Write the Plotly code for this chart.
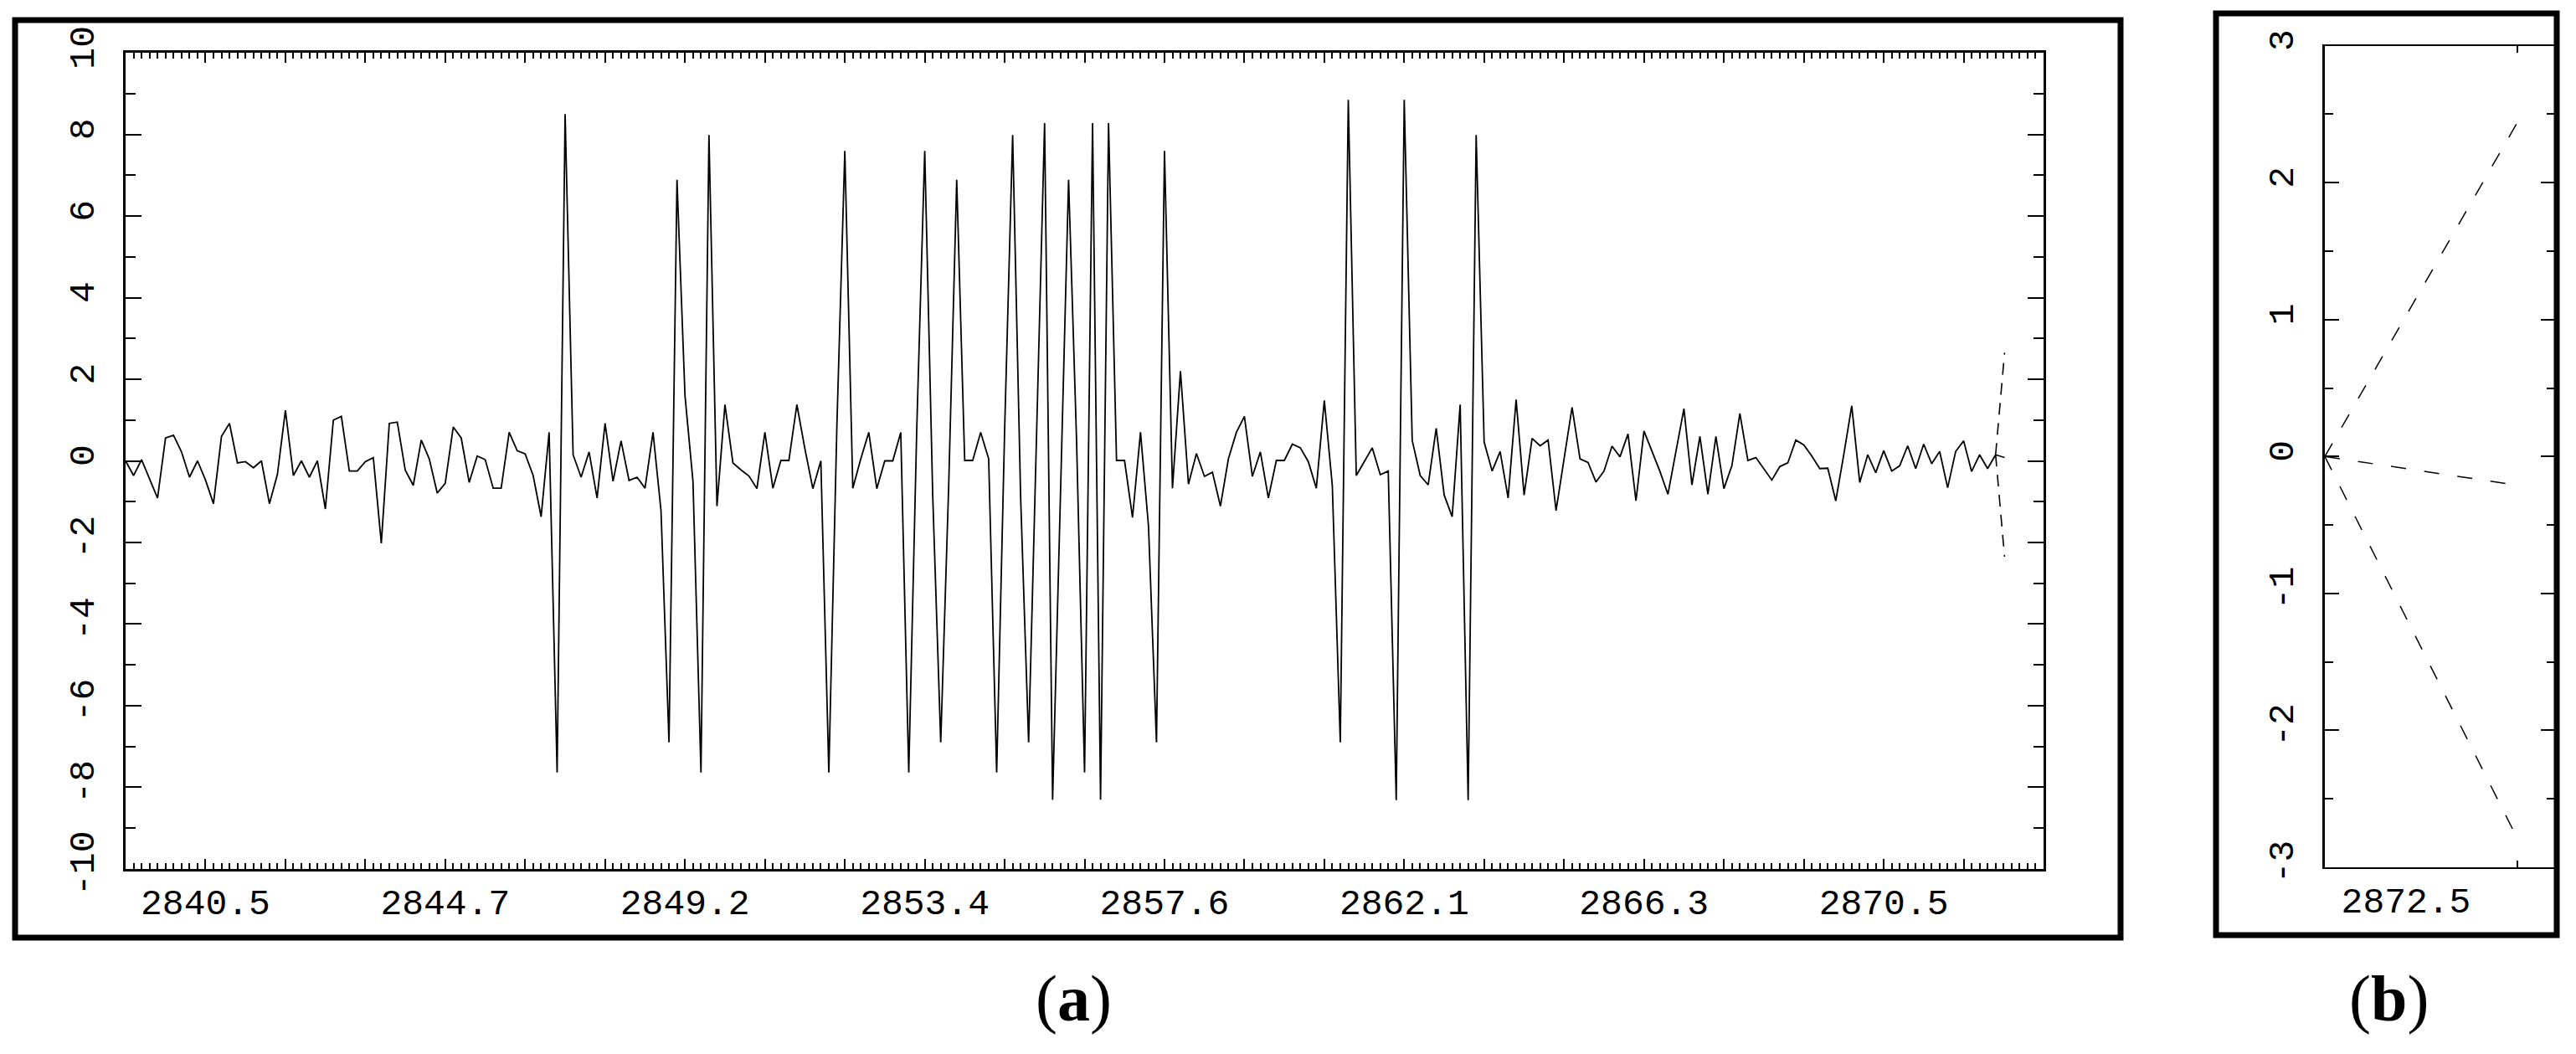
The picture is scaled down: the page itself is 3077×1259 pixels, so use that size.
import plotly.graph_objects as go

W, H = 3077, 1259

# ---------------- data: panel (a) observed series ----------------
t0 = 2839.0714          # time of first sample (left edge of axis)
dt = 1 / 7              # sampling step
values = [
    0.0, -0.36, 0.03, -0.45, -0.91, 0.56, 0.63, 0.22, -0.4, 0.0,
    -0.47, -1.05, 0.6, 0.92, -0.05, -0.02, -0.17, 0.0, -1.05, -0.33,
    1.24, -0.36, 0.0, -0.4, 0.0, -1.18, 1.0, 1.09, -0.25, -0.25,
    -0.02, 0.08, -2.02, 0.92, 0.95, -0.23, -0.6, 0.51, 0.05, -0.79,
    -0.55, 0.83, 0.56, -0.53, 0.12, 0.03, -0.67, -0.67, 0.7, 0.25,
    0.17, -0.36, -1.37, 0.7, -7.64, 8.5, 0.15, -0.4, 0.22, -0.91,
    0.92, -0.5, 0.49, -0.48, -0.4, -0.67, 0.7, -1.22, -6.9, 6.89,
    1.6, -0.5, -7.64, 7.99, -1.11, 1.38, -0.05, -0.22, -0.37, -0.68,
    0.7, -0.67, 0.01, 0.01, 1.38, 0.3, -0.68, 0.0, -7.64, 0.8,
    7.6, -0.67, 0.05, 0.7, -0.68, 0.0, 0.0, 0.7, -7.64, 0.77,
    7.6, -0.85, -6.9, -0.6, 6.89, 0.01, 0.01, 0.7, 0.05, -7.64,
    0.77, 7.99, -0.88, -6.9, 0.63, 8.28, -8.31, -0.7, 6.89, 0.5,
    -7.64, 8.28, -8.31, 8.28, 0.01, 0.01, -1.39, 0.7, -1.6, -6.9,
    7.6, -0.67, 2.2, -0.57, 0.18, -0.38, -0.28, -1.11, 0.05, 0.7,
    1.09, -0.38, 0.22, -0.91, 0.01, 0.01, 0.41, 0.32, -0.02, -0.67,
    1.48, -0.6, -6.9, 8.85, -0.36, -0.02, 0.32, -0.34, -0.25, -8.32,
    8.85, 0.5, -0.36, -0.59, 0.8, -0.84, -1.37, 1.38, -8.32, 7.99,
    0.46, -0.25, 0.23, -0.91, 1.5, -0.84, 0.55, 0.37, 0.51, -1.22,
    0.05, 1.31, 0.05, -0.04, -0.52, -0.25, 0.36, 0.1, 0.66, -0.98,
    0.73, 0.22, -0.26, -0.82, 0.22, 1.28, -0.59, 0.6, -0.82, 0.6,
    -0.68, -0.12, 1.16, 0.01, 0.08, -0.19, -0.47, -0.14, -0.05, 0.51,
    0.39, 0.12, -0.19, -0.18, -0.98, 0.15, 1.35, -0.53, 0.15, -0.29,
    0.25, -0.25, -0.12, 0.37, -0.19, 0.41, -0.07, 0.23, -0.66, 0.23,
    0.49, -0.26, 0.15, -0.19, 0.15,
]
time = [t0 + i * dt for i in range(len(values))]

# x tick labels of panel (a) (every third major tick is labelled)
x_tick_labels = ["2840.5", "2844.7", "2849.2", "2853.4",
                 "2857.6", "2862.1", "2866.3", "2870.5"]
y_tick_vals_a = [-10, -8, -6, -4, -2, 0, 2, 4, 6, 8, 10]

# forecast in panel (a)
fc_a_t = [2872.5, 2872.66]
fc_a_upper = [0.15, 2.65]
fc_a_mid = [0.15, 0.08]
fc_a_lower = [0.15, -2.35]

# ---------------- data: panel (b) forecast close-up ----------------
fc_b_t = [2872.5, 2872.66]
fc_b_upper = [0.0, 2.44]
fc_b_mid = [0.0, -0.21]
fc_b_lower = [0.0, -2.79]
b_tick_labels = ["2872.5"]
y_tick_vals_b = [-3, -2, -1, 0, 1, 2, 3]

panel_labels = ["(<b>a</b>)", "(<b>b</b>)"]

# ---------------- helpers ----------------
def fx(p):
    return p / W

def fy(p):
    return 1 - p / H

# major ticks every 10 samples; label every third
n_major = 25
major_vals = [t0 + 10 * k * dt for k in range(n_major)]
major_text = []
for k in range(n_major):
    j = k - 1
    if j >= 0 and j % 3 == 0 and j // 3 < len(x_tick_labels):
        major_text.append(x_tick_labels[j // 3])
    else:
        major_text.append("")

TICKFONT = dict(family="Liberation Mono", size=43, color="black")

fig = go.Figure()

fig.add_trace(go.Scatter(x=time, y=values, mode="lines",
                         line=dict(color="black", width=1.8),
                         xaxis="x", yaxis="y", showlegend=False))
for ys in (fc_a_upper, fc_a_mid, fc_a_lower):
    fig.add_trace(go.Scatter(x=fc_a_t, y=ys, mode="lines",
                             line=dict(color="black", width=1.6, dash="14px,10px"),
                             xaxis="x", yaxis="y", showlegend=False))
for ys in (fc_b_upper, fc_b_mid, fc_b_lower):
    fig.add_trace(go.Scatter(x=fc_b_t, y=ys, mode="lines",
                             line=dict(color="black", width=1.5, dash="18px,22px"),
                             xaxis="x2", yaxis="y2", showlegend=False))

common_axis = dict(showgrid=False, zeroline=False, showline=True,
                   linecolor="black", ticks="inside", tickcolor="black",
                   mirror="ticks", tickfont=TICKFONT, automargin=False)

fig.update_layout(
    width=W, height=H, autosize=False,
    margin=dict(l=0, r=0, t=0, b=0, pad=0, autoexpand=False),
    paper_bgcolor="white", plot_bgcolor="white",
    xaxis=dict(common_axis, domain=[fx(150), fx(2441)],
               range=[t0, t0 + 240 * dt],
               tickmode="array", tickvals=major_vals, ticktext=major_text,
               ticklen=12, tickwidth=2, linewidth=3,
               ticklabelstandoff=0,
               minor=dict(tickmode="linear", tick0=t0, dtick=dt,
                          ticks="inside", ticklen=7, tickwidth=1.5,
                          tickcolor="black"),
               anchor="y"),
    yaxis=dict(common_axis, domain=[fy(1037.7), fy(63.3)],
               range=[-10, 10], tickmode="array",
               tickvals=y_tick_vals_a,
               ticktext=[str(v) for v in y_tick_vals_a],
               ticklen=19, tickwidth=2, linewidth=3, tickangle=-90,
               ticklabelstandoff=18,
               minor=dict(tickmode="linear", tick0=-9, dtick=2,
                          ticks="inside", ticklen=12, tickwidth=2,
                          tickcolor="black"),
               anchor="x"),
    xaxis2=dict(common_axis, domain=[fx(2777), fx(3052)],
                range=[2872.5, 2872.6913],
                tickmode="array", tickvals=[fc_b_t[-1]], ticktext=b_tick_labels,
                ticklen=8, tickwidth=1.5, linewidth=2,
                ticklabelshift=-133, ticklabelstandoff=0,
                anchor="y2"),
    yaxis2=dict(common_axis, domain=[fy(1036), fy(54.6)],
                range=[-3, 3], tickmode="array",
                tickvals=y_tick_vals_b,
                ticktext=[str(v) for v in y_tick_vals_b],
                ticklen=17, tickwidth=2, linewidth=3, tickangle=-90,
                ticklabelstandoff=18,
                minor=dict(tickmode="linear", tick0=-2.5, dtick=1,
                           ticks="inside", ticklen=10, tickwidth=2,
                           tickcolor="black"),
                anchor="x2"),
)

# outer frames
fig.add_shape(type="rect", xref="paper", yref="paper",
              x0=fx(18), x1=fx(2533), y0=fy(1120), y1=fy(24),
              line=dict(color="black", width=7), fillcolor="rgba(0,0,0,0)")
fig.add_shape(type="rect", xref="paper", yref="paper",
              x0=fx(2647), x1=fx(3054), y0=fy(1117), y1=fy(16),
              line=dict(color="black", width=7), fillcolor="rgba(0,0,0,0)")

# panel labels
for txt, cx in zip(panel_labels, (1282, 2853)):
    fig.add_annotation(text=txt, xref="paper", yref="paper",
                       x=fx(cx), y=fy(1192), showarrow=False,
                       xanchor="center", yanchor="middle",
                       font=dict(family="Liberation Serif", size=78, color="black"))

fig.write_html("out.html",
               config={"displayModeBar": False},
               post_script="document.body.style.margin='0';document.body.style.padding='0';")
